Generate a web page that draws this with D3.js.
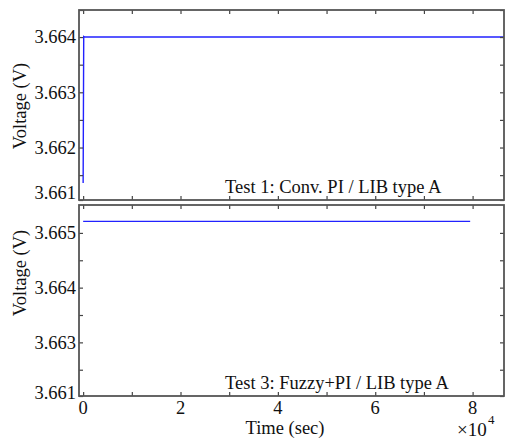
<!DOCTYPE html>
<html>
<head>
<meta charset="utf-8">
<script src="https://cdn.jsdelivr.net/npm/d3@7"></script>
<style>
  body { margin: 0; background: #fff; }
  svg text { font-family: "Liberation Serif", "Times New Roman", serif; fill: #111; }
</style>
</head>
<body>
<div id="chart"></div>
<script>
// time axis (sec)
var xMajorTicks = [0, 20000, 40000, 60000, 80000];
var xMinorTicks = [10000, 30000, 50000, 70000];
var xTickLabels = ["0", "2", "4", "6", "8"];

// Test 1: Conv. PI / LIB type A
var test1Time = [0, 120, 300, 4000, 9000, 14000, 19000, 24000, 29000, 34000, 39000, 44000,
                 49000, 54000, 59000, 64000, 69000, 74000, 79000, 84000, 87000];
var test1Volt = [3.66136, 3.66401, 3.66400, 3.66400, 3.664, 3.66400, 3.66400, 3.664, 3.66400, 3.66400, 3.664, 3.66400,
                 3.664, 3.66400, 3.66400, 3.664, 3.66400, 3.664, 3.66400, 3.66400, 3.664];
var test1YTicks = [3.661, 3.662, 3.663, 3.664];
var test1YMinor = [3.6615, 3.6625, 3.6635, 3.6645];
var test1YLabels = ["3.661", "3.662", "3.663", "3.664"];

// Test 3: Fuzzy+PI / LIB type A
var test3Time = [0, 4000, 9000, 14000, 19000, 24000, 29000, 34000, 39000, 44000,
                 49000, 54000, 59000, 64000, 69000, 74000, 79500];
var test3Volt = [3.66521, 3.66521, 3.66521, 3.66521, 3.66521, 3.66521, 3.66521, 3.66521, 3.66521, 3.66521,
                 3.66521, 3.66521, 3.66521, 3.66521, 3.66521, 3.66521, 3.66521];
var test3YTicks = [3.662, 3.663, 3.664, 3.665];
var test3YMinor = [3.6625, 3.6635, 3.6645];
var test3YLabels = ["3.661", "3.663", "3.664", "3.665"];

var W = 506, H = 440;
var left = 79, right = 504;

var svg = d3.select("#chart").append("svg")
    .attr("width", W)
    .attr("height", H);

var x = d3.scaleLinear().domain([-850, 86450]).range([left, right]);

function panel(opt) {
  var y = d3.scaleLinear().domain(opt.ydomain).range([opt.bottom, opt.top]).clamp(true);
  var g = svg.append("g");

  g.append("clipPath").attr("id", opt.id)
    .append("rect")
    .attr("x", left).attr("y", opt.top)
    .attr("width", right - left).attr("height", opt.bottom - opt.top);

  var line = d3.line()
      .x(function(d) { return x(d[0]); })
      .y(function(d) { return y(d[1]); });

  g.append("path")
    .datum(d3.zip(opt.time, opt.volt))
    .attr("clip-path", "url(#" + opt.id + ")")
    .attr("fill", "none")
    .attr("stroke", "#2222ff")
    .attr("stroke-width", 1.4)
    .attr("d", line);

  var xt = xMajorTicks.concat(xMinorTicks);
  var yt = opt.yticks.concat(opt.yminor);

  // inward ticks on all four sides
  g.append("g").attr("transform", "translate(0," + opt.bottom + ")")
    .call(d3.axisTop(x).tickValues(xt).tickSize(4).tickFormat(""));
  g.append("g").attr("transform", "translate(0," + opt.top + ")")
    .call(d3.axisBottom(x).tickValues(xt).tickSize(4).tickFormat(""));
  g.append("g").attr("transform", "translate(" + right + ",0)")
    .call(d3.axisLeft(y).tickValues(yt).tickSize(4).tickFormat(""));
  g.append("g").attr("transform", "translate(" + left + ",0)")
    .call(d3.axisRight(y).tickValues(yt).tickSize(4).tickFormat(""));

  // y labels
  g.selectAll(".ylab")
    .data(opt.yticks)
    .enter().append("text")
    .attr("class", "ylab")
    .attr("x", left - 3)
    .attr("y", function(d, i) { return y(d) + (i === 0 ? opt.lowShift : 0); })
    .attr("dy", "0.34em")
    .attr("text-anchor", "end")
    .style("font-size", "18.5px")
    .text(function(d, i) { return opt.ylabels[i]; });

  g.selectAll(".domain").remove();
  g.selectAll(".tick line").attr("stroke", "#444").attr("stroke-width", 1.2);

  g.append("rect")
    .attr("x", left).attr("y", opt.top)
    .attr("width", right - left).attr("height", opt.bottom - opt.top)
    .attr("fill", "none")
    .attr("stroke", "#555")
    .attr("stroke-width", 1.8);

  g.append("text")
    .attr("transform", "translate(26," + opt.labelY + ") rotate(-90)")
    .attr("text-anchor", "middle")
    .style("font-size", "18.5px")
    .text("Voltage (V)");

  g.append("text")
    .attr("x", 225).attr("y", opt.bottom - 7)
    .style("font-size", "18.5px")
    .text(opt.title);

  return g;
}

panel({ id: "c1", top: 10, bottom: 200, ydomain: [3.66105, 3.66449],
        time: test1Time, volt: test1Volt, yticks: test1YTicks, yminor: test1YMinor,
        ylabels: test1YLabels, lowShift: -7, labelY: 106,
        title: "Test 1: Conv. PI / LIB type A" });

panel({ id: "c3", top: 205, bottom: 396, ydomain: [3.66202, 3.66551],
        time: test3Time, volt: test3Volt, yticks: test3YTicks, yminor: test3YMinor,
        ylabels: test3YLabels, lowShift: -3, labelY: 273,
        title: "Test 3: Fuzzy+PI / LIB type A" });

// x tick labels under the lower panel
svg.selectAll(".xlab")
  .data(xMajorTicks)
  .enter().append("text")
  .attr("x", function(d) { return x(d); })
  .attr("y", 414)
  .attr("text-anchor", "middle")
  .style("font-size", "18.5px")
  .text(function(d, i) { return xTickLabels[i]; });

svg.append("text")
  .attr("x", 285).attr("y", 434)
  .attr("text-anchor", "middle")
  .style("font-size", "18.5px")
  .text("Time (sec)");

svg.append("text")
  .attr("x", 457).attr("y", 436)
  .style("font-size", "19px")
  .text("\u00d710");
svg.append("text")
  .attr("x", 488).attr("y", 424)
  .style("font-size", "13px")
  .text("4");
</script>
</body>
</html>
